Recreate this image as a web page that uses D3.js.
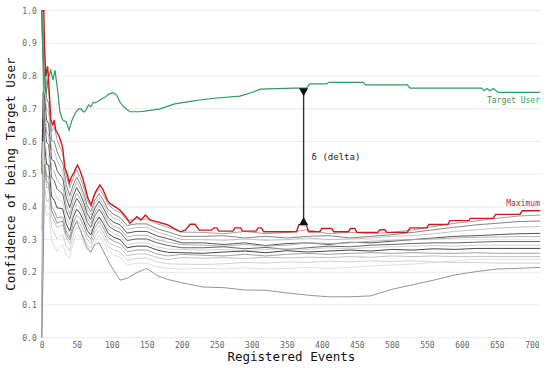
<!DOCTYPE html>
<html>
<head>
<meta charset="utf-8">
<script src="https://cdn.jsdelivr.net/npm/d3@7"></script>
<style>
  body { margin: 0; background: #fff; }
  svg text { font-family: "DejaVu Sans Mono", monospace; }
  .grid line { stroke: #ebebeb; }
  .axis path { display: none; }
  .axis text { fill: #666; font-size: 8px; }
</style>
</head>
<body>
<script>
// Chart size
var width  = 550;
var height = 368;
var margin = {top: 10.7, right: 9, bottom: 30.3, left: 41.7};

// Target user confidence
var targetEvents = [0,2,4,6,9,13,16,19,23,26,30,35,39,44,49,53,56,60,63,67,70,74,77,83,90,96,102,107,112,117,126,140,155,169,190,210,226,250,283,300,312,360,378,383,407,410,459,462,522,526,628,632,636,640,645,652,712];
var targetValues = [1.0,0.86,0.80,0.745,0.79,0.818,0.788,0.818,0.752,0.69,0.666,0.66,0.635,0.67,0.69,0.70,0.70,0.69,0.696,0.712,0.706,0.72,0.718,0.727,0.735,0.745,0.749,0.742,0.72,0.706,0.691,0.691,0.695,0.70,0.715,0.722,0.727,0.733,0.739,0.75,0.76,0.763,0.763,0.776,0.776,0.781,0.781,0.773,0.773,0.763,0.763,0.755,0.762,0.755,0.762,0.75,0.75];

// Maximum over the other users
var maxEvents = [0,3,4,6,8.5,10,13,16,18,20,24,27.5,30,33,37,39.5,42,46,51,54,58.5,62,66,70.5,74,77,83,87,90,94,97.6,105,112,120,126,131,136,142,148,155,164,172,180,188,198,205,212,219,225,243,246,250,253,273,276,284,287,306,309,314,317,364,367,378,381,397,400,414,417,438,441,447,450,480,483,490,493,522,526,550,553,580,583,610,612,645,648,683,686,712];
var maxValues = [1.0,1.0,0.89,0.80,0.83,0.78,0.666,0.65,0.666,0.635,0.62,0.60,0.58,0.52,0.497,0.473,0.49,0.505,0.528,0.515,0.488,0.46,0.427,0.406,0.43,0.446,0.467,0.455,0.44,0.42,0.41,0.40,0.39,0.37,0.35,0.36,0.37,0.36,0.375,0.36,0.355,0.35,0.345,0.335,0.324,0.329,0.347,0.347,0.329,0.329,0.336,0.336,0.326,0.326,0.336,0.336,0.326,0.326,0.336,0.336,0.324,0.324,0.345,0.345,0.324,0.324,0.334,0.334,0.324,0.324,0.334,0.334,0.322,0.322,0.33,0.33,0.322,0.322,0.336,0.336,0.346,0.346,0.358,0.358,0.365,0.365,0.377,0.377,0.388,0.388];

// Other users
var otherEvents = [0,2,4,7,10,14,18,22,26,30,35,40,45,50,55,60,65,70,76,82,88,95,103,112,122,135,150,165,180,200,230,260,290,320,350,380,410,440,470,500,530,560,590,620,650,680,712];
var otherColors = ["#999","#777","#bbb","#444","#aaa","#555","#ccc","#333","#999","#bbb","#ccc","#ddd","#888"];
var otherValues = [
  [1.0,.95,.865,.778,.759,.63,.645,.606,.583,.564,.496,.458,.489,.514,.49,.46,.421,.402,.437,.457,.437,.407,.392,.383,.358,.363,.363,.348,.338,.323,.322,.318,.325,.318,.322,.33,.318,.322,.318,.322,.33,.34,.35,.357,.365,.372,.375],
  [0,.67,.815,.732,.717,.603,.60,.568,.549,.533,.469,.434,.467,.492,.47,.441,.404,.386,.421,.441,.421,.391,.377,.367,.343,.348,.348,.333,.324,.31,.31,.312,.305,.31,.305,.31,.312,.305,.31,.315,.322,.33,.338,.345,.35,.355,.357],
  [1.0,.9,.78,.701,.688,.576,.572,.541,.525,.512,.451,.417,.452,.477,.456,.428,.393,.375,.41,.43,.41,.38,.366,.357,.332,.337,.337,.323,.314,.30,.30,.298,.302,.298,.30,.305,.30,.302,.305,.31,.312,.318,.325,.33,.335,.338,.34],
  [.5,.75,.74,.665,.654,.546,.54,.511,.498,.487,.429,.398,.434,.459,.44,.413,.379,.362,.397,.417,.397,.367,.353,.345,.32,.325,.325,.311,.303,.29,.29,.285,.29,.282,.288,.29,.285,.292,.29,.295,.30,.305,.31,.312,.315,.318,.319],
  [0,.5,.70,.629,.62,.516,.508,.481,.471,.462,.407,.379,.416,.441,.424,.398,.365,.349,.384,.404,.384,.354,.341,.333,.308,.313,.313,.30,.292,.285,.283,.28,.285,.28,.283,.29,.288,.29,.295,.298,.30,.302,.305,.307,.308,.309,.309],
  [1.0,.85,.665,.597,.591,.489,.48,.454,.447,.44,.388,.362,.401,.426,.41,.384,.353,.338,.373,.393,.373,.343,.33,.322,.297,.302,.302,.29,.282,.275,.275,.278,.272,.276,.27,.275,.28,.278,.283,.285,.288,.29,.29,.292,.294,.294,.294],
  [0,.33,.625,.561,.557,.459,.448,.424,.42,.416,.367,.343,.383,.408,.394,.369,.34,.325,.36,.38,.36,.33,.318,.31,.285,.29,.29,.278,.271,.27,.268,.27,.266,.27,.272,.27,.275,.272,.276,.278,.28,.282,.28,.283,.283,.283,.283],
  [.5,.67,.59,.53,.528,.432,.42,.397,.396,.394,.348,.326,.368,.393,.38,.356,.328,.314,.349,.369,.349,.319,.307,.30,.275,.28,.28,.268,.261,.26,.258,.262,.265,.26,.266,.262,.265,.268,.265,.27,.268,.272,.27,.273,.273,.273,.273],
  [1.0,.8,.55,.494,.494,.402,.388,.367,.369,.369,.326,.307,.35,.375,.364,.341,.314,.301,.336,.356,.336,.306,.295,.288,.263,.268,.268,.256,.25,.255,.252,.25,.255,.25,.255,.258,.255,.258,.26,.258,.26,.258,.258,.26,.258,.258,.258],
  [.33,.5,.51,.458,.461,.371,.356,.336,.342,.344,.305,.288,.333,.358,.348,.326,.301,.288,.323,.343,.323,.293,.282,.276,.251,.256,.256,.245,.239,.245,.243,.245,.242,.246,.244,.246,.245,.248,.246,.25,.248,.25,.248,.248,.248,.248,.248],
  [0,.25,.465,.417,.423,.337,.32,.302,.311,.316,.28,.266,.313,.338,.33,.308,.285,.274,.309,.329,.309,.279,.268,.262,.237,.243,.243,.232,.226,.225,.224,.226,.23,.228,.232,.23,.234,.232,.235,.233,.235,.232,.23,.23,.228,.228,.228],
  [.5,.6,.415,.372,.381,.299,.28,.264,.277,.285,.253,.242,.291,.316,.31,.289,.268,.258,.293,.313,.293,.263,.253,.247,.222,.228,.228,.217,.212,.21,.212,.21,.214,.21,.212,.215,.212,.215,.22,.222,.225,.23,.235,.24,.24,.24,.24],
  [0,.2,.53,.48,.47,.39,.37,.35,.355,.355,.315,.30,.335,.355,.33,.30,.275,.262,.285,.29,.265,.235,.205,.176,.182,.198,.212,.19,.178,.168,.155,.153,.146,.145,.137,.13,.125,.125,.128,.148,.162,.176,.192,.202,.21,.212,.215]
];

var xTicks = [0,50,100,150,200,250,300,350,400,450,500,550,600,650,700];
var yTicks = [0,0.1,0.2,0.3,0.4,0.5,0.6,0.7,0.8,0.9,1.0];
var deltaAt = 374;

var svg = d3.select("body").append("svg")
    .attr("width", width)
    .attr("height", height);

var x = d3.scaleLinear().domain([0, 713]).range([margin.left, width - margin.right]);
var y = d3.scaleLinear().domain([0, 1]).range([height - margin.bottom, margin.top]);

// grid
svg.append("g")
    .attr("class", "grid")
    .selectAll("line")
    .data(yTicks)
    .enter().append("line")
    .attr("x1", x(0)).attr("x2", x(713))
    .attr("y1", function(d) { return y(d); })
    .attr("y2", function(d) { return y(d); });

// axes
svg.append("g")
    .attr("class", "axis")
    .attr("transform", "translate(0," + y(0) + ")")
    .call(d3.axisBottom(x).tickValues(xTicks).tickSize(0).tickPadding(5).tickFormat(d3.format("d")));

svg.append("g")
    .attr("class", "axis")
    .attr("transform", "translate(" + x(0) + ",0)")
    .call(d3.axisLeft(y).tickValues(yTicks).tickSize(0).tickPadding(5).tickFormat(d3.format(".1f")));

var line = d3.line()
    .x(function(d) { return x(d[0]); })
    .y(function(d) { return y(d[1]); });

function pairs(evs, vals) {
    return evs.map(function(e, i) { return [e, vals[i]]; });
}

// other users
otherValues.forEach(function(vals, i) {
    svg.append("path")
        .datum(pairs(otherEvents, vals))
        .attr("fill", "none")
        .attr("stroke", otherColors[i])
        .attr("stroke-width", 0.9)
        .attr("d", line);
});

// target user
svg.append("path")
    .datum(pairs(targetEvents, targetValues))
    .attr("fill", "none")
    .attr("stroke", "#2a9d5c")
    .attr("stroke-width", 1.2)
    .attr("d", line);

// maximum
svg.append("path")
    .datum(pairs(maxEvents, maxValues))
    .attr("fill", "none")
    .attr("stroke", "#d01818")
    .attr("stroke-width", 1.4)
    .attr("d", line);

// delta arrow
var yTop = y(d3.scaleLinear().domain(targetEvents).range(targetValues)(deltaAt));
var yBot = y(d3.scaleLinear().domain(maxEvents).range(maxValues)(deltaAt));
var xa = x(deltaAt);
svg.append("line")
    .attr("x1", xa).attr("x2", xa)
    .attr("y1", yTop).attr("y2", yBot)
    .attr("stroke", "#333").attr("stroke-width", 1.4);
svg.append("path")
    .attr("d", "M" + (xa - 4.5) + "," + yTop + "L" + (xa + 4.5) + "," + yTop + "L" + xa + "," + (yTop + 8) + "Z")
    .attr("fill", "#111");
svg.append("path")
    .attr("d", "M" + (xa - 4.5) + "," + yBot + "L" + (xa + 4.5) + "," + yBot + "L" + xa + "," + (yBot - 8) + "Z")
    .attr("fill", "#111");
svg.append("text")
    .attr("x", xa + 8)
    .attr("y", (yTop + yBot) / 2 + 3)
    .attr("font-size", "9px")
    .attr("fill", "#222")
    .text("δ (delta)");

// series labels
svg.append("text")
    .attr("x", x(713) - 1).attr("y", 103)
    .attr("text-anchor", "end")
    .attr("font-size", "8px")
    .attr("fill", "#2a9d5c")
    .text("Target User");
svg.append("text")
    .attr("x", x(713) - 1).attr("y", 206)
    .attr("text-anchor", "end")
    .attr("font-size", "8px")
    .attr("fill", "#d01818")
    .text("Maximum");

// axis titles
svg.append("text")
    .attr("x", (x(0) + x(713)) / 2)
    .attr("y", 361)
    .attr("text-anchor", "middle")
    .attr("font-size", "12.5px")
    .attr("fill", "#111")
    .text("Registered Events");
svg.append("text")
    .attr("transform", "translate(15," + (y(0.5)) + ") rotate(-90)")
    .attr("text-anchor", "middle")
    .attr("font-size", "12.5px")
    .attr("fill", "#111")
    .text("Confidence of being Target User");
</script>
</body>
</html>
